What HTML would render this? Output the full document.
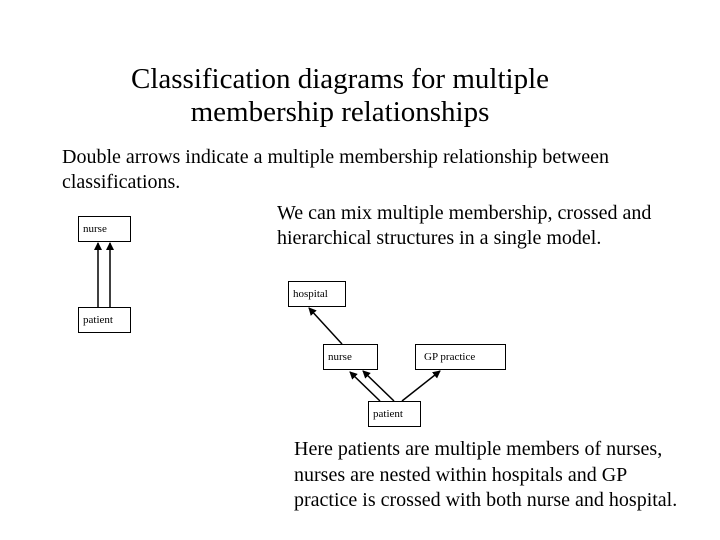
<!DOCTYPE html>
<html><head><style>
body{margin:0;width:720px;height:540px;background:#fff;position:relative;font-family:"Liberation Serif",serif;color:#000;overflow:hidden}
.t{position:absolute;white-space:nowrap}
.b{position:absolute;border:1px solid #000;box-sizing:border-box;font-size:11px;padding:6px 0 0 4px;background:#fff}
</style></head><body>
<div class="t" style="left:0;width:680px;text-align:center;top:63px;font-size:29px;line-height:33px">Classification diagrams for multiple<br>membership relationships</div>
<div class="t" style="left:62px;top:145px;font-size:20px;line-height:25px">Double arrows indicate a multiple membership relationship between<br>classifications.</div>
<div class="t" style="left:277px;top:201px;font-size:20px;line-height:25px">We can mix multiple membership, crossed and<br>hierarchical structures in a single model.</div>
<div class="t" style="left:294px;top:437px;font-size:20px;line-height:25.5px">Here patients are multiple members of nurses,<br>nurses are nested within hospitals and GP<br>practice is crossed with both nurse and hospital.</div>
<svg width="720" height="540" style="position:absolute;left:0;top:0">
<defs><marker id="a" markerWidth="8" markerHeight="8" refX="7" refY="4" orient="auto" markerUnits="userSpaceOnUse"><path d="M0,0L8,4L0,8z" fill="#000"/></marker></defs>
<g stroke="#000" stroke-width="1.5" fill="none" marker-end="url(#a)">
<line x1="98" y1="307" x2="98" y2="243"/>
<line x1="110" y1="307" x2="110" y2="243"/>
<line x1="342" y1="344" x2="309" y2="308"/>
<line x1="380" y1="401" x2="350" y2="372"/>
<line x1="394" y1="401" x2="363" y2="371"/>
<line x1="402" y1="401" x2="440" y2="371"/>
</g></svg>
<div class="b" style="left:78px;top:216px;width:53px;height:26px">nurse</div>
<div class="b" style="left:78px;top:307px;width:53px;height:26px">patient</div>
<div class="b" style="left:288px;top:281px;width:58px;height:26px">hospital</div>
<div class="b" style="left:323px;top:344px;width:55px;height:26px">nurse</div>
<div class="b" style="left:415px;top:344px;width:91px;height:26px;padding-left:8px">GP practice</div>
<div class="b" style="left:368px;top:401px;width:53px;height:26px">patient</div>
</body></html>
